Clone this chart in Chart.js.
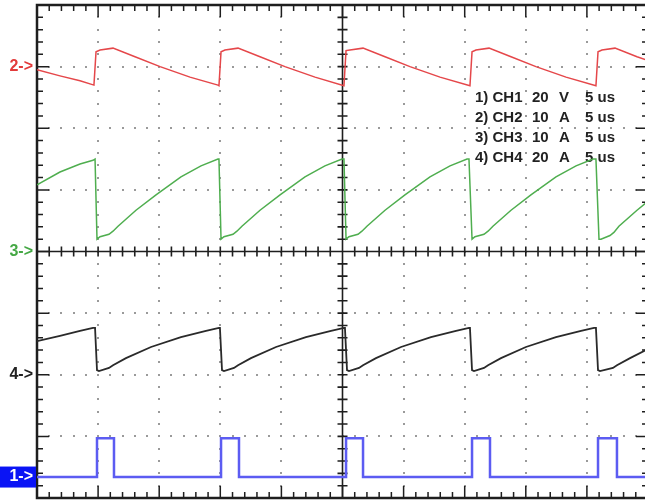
<!DOCTYPE html>
<html>
<head>
<meta charset="utf-8">
<title>CH1-CH4 waveforms</title>
<script src="https://cdn.jsdelivr.net/npm/chart.js@4/dist/chart.umd.min.js"></script>
<style>
  body { margin: 0; background: #fff; }
  #scope { width: 645px; height: 500px; overflow: hidden; }
</style>
</head>
<body>
<div id="scope"><canvas id="scopeChart" width="650" height="500"></canvas></div>
<script>
// Time base: 5 us/div over 10 divisions
const usPerDiv = 5;
const timeSpanUs = 50;

// Channel settings
const channelNames = ['CH1', 'CH2', 'CH3', 'CH4'];
const channelPerDiv = [20, 10, 10, 20];
const channelUnits = ['V', 'A', 'A', 'A'];

// CH1 - gate pulse (V)
const ch1Time = [0, 4.91, 4.91, 6.30, 6.30, 15.06, 15.06, 16.53, 16.53, 25.29, 25.29,
  26.68, 26.68, 35.60, 35.60, 37.07, 37.07, 45.91, 45.91, 47.46, 47.46, 50];
const ch1Volts = [0, 0, 12.6, 12.6, 0, 0, 12.6, 12.6, 0, 0, 12.6,
  12.6, 0, 0, 12.6, 12.6, 0, 0, 12.6, 12.6, 0, 0];

// CH2 - current (A)
const ch2Time = [0, 1.88, 3.52, 4.66, 4.83, 5.16, 6.22, 8.02, 10.07, 12.52, 14.81,
  14.89, 15.06, 15.38, 16.45, 18.25, 20.29, 22.75, 25.12,
  25.29, 25.61, 26.68, 28.48, 30.52, 32.98, 35.43,
  35.60, 35.92, 36.99, 38.79, 40.83, 43.29, 45.74,
  45.91, 46.23, 47.30, 49.10, 50.16];
const ch2Amps = [-0.5, -1.5, -2.3, -3.0, 2.4, 2.7, 3.0, 1.6, 0.0, -1.7, -3.0,
  -3.1, 2.4, 2.7, 3.0, 1.6, 0.0, -1.7, -3.1,
  2.6, 2.7, 3.0, 1.6, 0.0, -1.7, -3.1,
  2.4, 2.7, 3.0, 1.6, 0.0, -1.7, -3.1,
  2.4, 2.7, 3.0, 1.6, 0.9];

// CH3 - current (A)
const ch3Time = [0, 1.88, 3.52, 4.58, 4.75,
  4.91, 5.16, 5.89, 6.22, 6.63, 8.10, 9.74, 11.78, 13.42, 14.81, 14.89,
  15.06, 15.30, 16.04, 16.36, 16.77, 18.25, 19.89, 21.93, 23.56, 24.96, 25.12,
  25.29, 25.53, 26.27, 26.59, 27.00, 28.48, 30.11, 32.16, 33.80, 35.19, 35.35,
  35.60, 35.84, 36.58, 36.91, 37.31, 38.79, 40.42, 42.47, 44.11, 45.50, 45.74,
  45.99, 46.15, 46.89, 47.21, 47.62, 49.10, 50.16];
const ch3Amps = [10.8, 12.9, 14.2, 14.8, 15.0,
  2.0, 2.4, 2.8, 3.3, 4.1, 6.7, 9.2, 12.1, 13.9, 15.0, 15.0,
  2.0, 2.4, 2.8, 3.3, 4.1, 6.7, 9.2, 12.1, 13.9, 15.0, 15.0,
  2.0, 2.4, 2.8, 3.3, 4.1, 6.7, 9.2, 12.1, 13.9, 15.0, 15.0,
  2.0, 2.4, 2.8, 3.3, 4.1, 6.7, 9.2, 12.1, 13.9, 15.0, 15.0,
  2.0, 2.0, 2.6, 3.1, 4.1, 6.7, 8.4];

// CH4 - current (A)
const ch4Time = [0, 1.88, 3.52, 4.58, 4.75,
  4.91, 5.07, 5.89, 6.22, 7.28, 9.33, 11.78, 13.83, 14.89, 14.97,
  15.14, 15.30, 16.12, 16.45, 17.51, 19.56, 22.01, 24.06, 25.12, 25.20,
  25.37, 25.53, 26.35, 26.68, 27.74, 29.79, 32.24, 34.29, 35.35, 35.43,
  35.60, 35.76, 36.58, 36.91, 37.97, 40.01, 42.47, 44.52, 45.58, 45.74,
  45.91, 46.07, 47.13, 47.46, 48.53, 50.16];
const ch4Amps = [10.9, 12.6, 14.2, 15.2, 15.2,
  1.5, 1.2, 2.2, 3.1, 5.4, 9.0, 12.2, 14.2, 15.2, 15.2,
  1.5, 1.2, 2.2, 3.1, 5.4, 9.0, 12.2, 14.2, 15.2, 15.2,
  1.5, 1.2, 2.2, 3.1, 5.4, 9.0, 12.2, 14.2, 15.2, 15.2,
  1.5, 1.2, 2.2, 3.1, 5.4, 9.0, 12.2, 14.2, 15.2, 15.2,
  1.5, 1.2, 2.2, 3.1, 5.4, 8.7];

// screen position of each channel's ground marker, in divisions from centre
const groundDiv = [-3.66, 3, 0, -2];
const traceColors = ['#5c5cf2', '#e5474a', '#4fae4f', '#2a2a2a'];
const markerColors = ['#0a14f5', '#e23a3a', '#45a845', '#222222'];
const traceWidths = [2.5, 1.5, 1.5, 1.8];

const toPoints = (ts, vs) => ts.map((t, i) => ({ x: t, y: vs[i] }));
const series = [
  toPoints(ch1Time, ch1Volts),
  toPoints(ch2Time, ch2Amps),
  toPoints(ch3Time, ch3Amps),
  toPoints(ch4Time, ch4Amps)
];

// one hidden y axis per channel, sized to 8 divisions around its ground
const scales = {
  x: { type: 'linear', min: 0, max: timeSpanUs, display: false },
  yDiv: { type: 'linear', min: -4, max: 4, display: false }
};
channelNames.forEach((name, i) => {
  scales['y' + i] = {
    type: 'linear',
    display: false,
    min: (-4 - groundDiv[i]) * channelPerDiv[i],
    max: (4 - groundDiv[i]) * channelPerDiv[i]
  };
});

// draw order: CH3, CH2, CH4, then CH1 on top
const datasets = [2, 1, 3, 0].map(i => ({
  label: channelNames[i],
  data: series[i],
  yAxisID: 'y' + i,
  borderColor: traceColors[i],
  borderWidth: traceWidths[i],
  pointRadius: 0,
  tension: 0,
  fill: false
}));

const FONT = 'bold 15px "Liberation Sans", Arial, sans-serif';
const MARKER_FONT = 'bold 16px "Liberation Sans", Arial, sans-serif';

// graticule: dotted division lines, centre cross and border with ticks
const graticule = {
  id: 'graticule',
  beforeDatasetsDraw(chart) {
    const { ctx, chartArea: a } = chart;
    const xs = chart.scales.x, ys = chart.scales.yDiv;
    const minorX = usPerDiv / 5;
    ctx.save();

    ctx.fillStyle = '#9a9a9a';
    for (let i = 1; i < 10; i++) {
      if (i === 5) continue;
      const px = xs.getPixelForValue(i * usPerDiv);
      for (let k = -19; k <= 19; k++) {
        const py = ys.getPixelForValue(k / 5);
        ctx.fillRect(Math.round(px) - 1, Math.round(py) - 1, 2, 2);
      }
    }
    for (let j = -3; j <= 3; j++) {
      if (j === 0) continue;
      const py = ys.getPixelForValue(j);
      for (let m = 1; m < 50; m++) {
        const px = xs.getPixelForValue(m * minorX);
        ctx.fillRect(Math.round(px) - 1, Math.round(py) - 1, 2, 2);
      }
    }

    ctx.strokeStyle = '#1e1e1e';
    const cx = xs.getPixelForValue(timeSpanUs / 2);
    const cy = ys.getPixelForValue(0);

    // centre cross
    ctx.lineWidth = 1.6;
    ctx.beginPath();
    ctx.moveTo(cx, a.top); ctx.lineTo(cx, a.bottom);
    ctx.moveTo(a.left, cy); ctx.lineTo(a.right, cy);
    for (let m = 1; m < 50; m++) {
      const px = xs.getPixelForValue(m * minorX);
      ctx.moveTo(px, cy - 5); ctx.lineTo(px, cy + 5);
    }
    for (let k = -19; k <= 19; k++) {
      const py = ys.getPixelForValue(k / 5);
      ctx.moveTo(cx - 5, py); ctx.lineTo(cx + 5, py);
    }
    ctx.stroke();

    // frame ticks
    ctx.lineWidth = 1.5;
    ctx.beginPath();
    for (let m = 1; m < 50; m++) {
      const px = xs.getPixelForValue(m * minorX);
      const len = m % 5 === 0 ? 12 : 6;
      ctx.moveTo(px, a.top); ctx.lineTo(px, a.top + len);
      ctx.moveTo(px, a.bottom); ctx.lineTo(px, a.bottom - len);
    }
    for (let k = -19; k <= 19; k++) {
      const py = ys.getPixelForValue(k / 5);
      const len = k % 5 === 0 ? 12 : 6;
      ctx.moveTo(a.left, py); ctx.lineTo(a.left + len, py);
      ctx.moveTo(a.right, py); ctx.lineTo(a.right - len, py);
    }
    ctx.stroke();

    ctx.lineWidth = 2.5;
    ctx.strokeRect(a.left, a.top, a.right - a.left, a.bottom - a.top);

    // channel settings readout
    ctx.font = FONT;
    ctx.fillStyle = '#222';
    ctx.textBaseline = 'middle';
    channelNames.forEach((name, i) => {
      const y = 98 + i * 20;
      ctx.fillText((i + 1) + ') ' + name, 475, y);
      ctx.fillText(String(channelPerDiv[i]), 532, y);
      ctx.fillText(channelUnits[i], 559, y);
      ctx.fillText(usPerDiv + ' us', 585, y);
    });
    ctx.restore();
  },
  afterDraw(chart) {
    const { ctx } = chart;
    ctx.save();
    ctx.font = MARKER_FONT;
    ctx.textBaseline = 'middle';
    ctx.textAlign = 'right';
    channelNames.forEach((name, i) => {
      const py = chart.scales['y' + i].getPixelForValue(0);
      const text = (i + 1) + '->';
      if (i === 0) {
        ctx.fillStyle = markerColors[0];
        ctx.fillRect(0, py - 10.5, 36, 21);
        ctx.fillStyle = '#fff';
      } else {
        ctx.fillStyle = markerColors[i];
      }
      ctx.fillText(text, 33, py);
    });
    ctx.restore();
  }
};

const ctx = document.getElementById('scopeChart').getContext('2d');
new Chart(ctx, {
  type: 'line',
  data: { datasets },
  options: {
    responsive: false,
    animation: false,
    layout: { padding: { left: 37, top: 5, right: 2, bottom: 2 } },
    scales,
    plugins: {
      legend: { display: false },
      tooltip: { enabled: false }
    }
  },
  plugins: [graticule]
});
</script>
</body>
</html>
